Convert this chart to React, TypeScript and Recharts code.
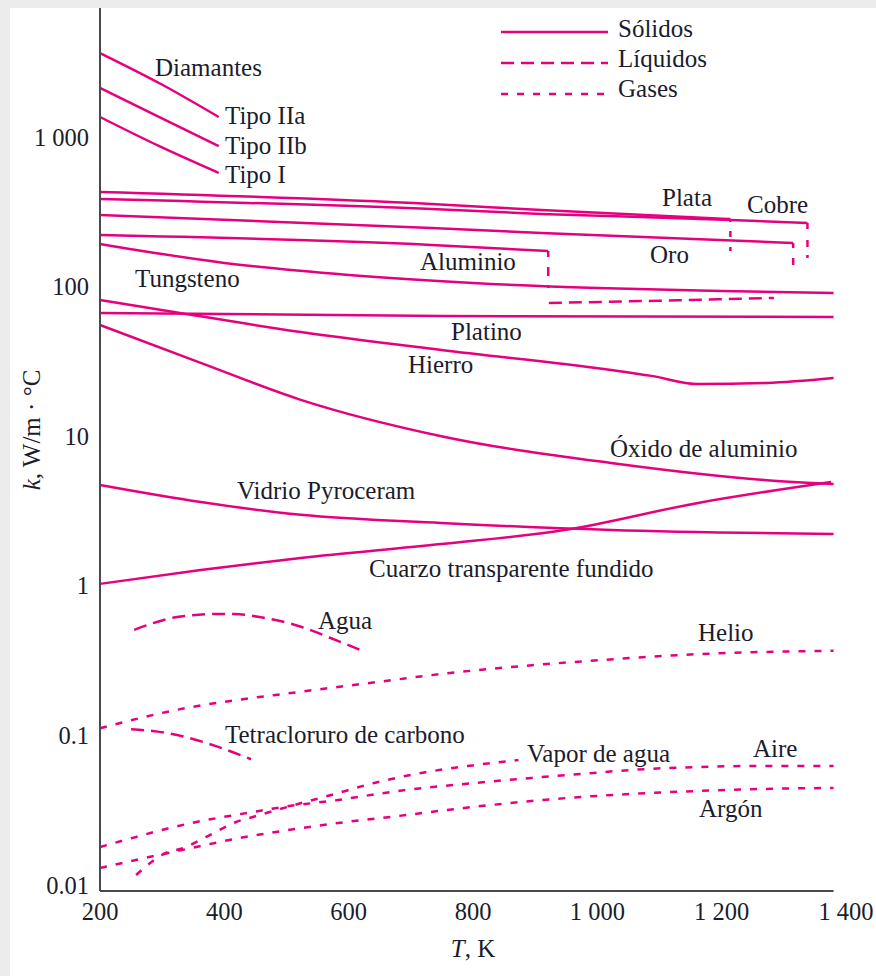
import React from "react";
import { LineChart, Line, XAxis, YAxis, Legend, ReferenceLine, Label } from "recharts";

const PINK = "#e6007e";
const INK = "#1c1c2c";
const FONT = "'Liberation Serif', 'Times New Roman', serif";

// [T (K), k (W/m·°C)]
const diamanteIIa = [[200, 3640], [298, 2260], [391, 1360]];
const diamanteIIb = [[200, 2130], [298, 1340], [391, 870]];
const diamanteI = [[200, 1360], [298, 858], [391, 575]];
const plata = [[200, 429], [733, 357], [910, 325], [1214, 283]];
const cobre = [[200, 385], [733, 330], [910, 306], [1214, 279], [1338, 266]];
const oro = [[200, 301], [733, 246.5], [910, 228], [1315, 195.6]];
const aluminio = [[200, 221], [733, 190], [921, 173]];
const tungsteno = [[200, 192.7], [300, 165], [400, 144], [600, 119.5], [800, 105.7], [1000, 97.9], [1200, 93.5], [1380, 90.6]];
const platino = [[200, 66.6], [750, 63.6], [1380, 62.6]];
const hierro = [[200, 81.4], [309, 68.7], [523, 49.7], [749, 37.7], [1022, 27.7], [1087, 25.3], [1162, 22.3], [1272, 22.7], [1380, 24.5]];
const oxidoAluminio = [[200, 55.4], [362, 30.9], [523, 17.5], [749, 10.0], [1022, 6.62], [1268, 5.1], [1380, 4.79]];
const pyroceram = [[200, 4.72], [362, 3.63], [523, 2.98], [749, 2.63], [1022, 2.36], [1380, 2.22]];
const cuarzo = [[200, 1.03], [362, 1.276], [523, 1.535], [749, 1.9], [947, 2.36], [1162, 3.58], [1376, 4.94]];

// melting steps (solid -> liquid)
const plataFusion = [[1214, 283], [1214, 170]];
const cobreFusion = [[1338, 266], [1338, 155]];
const oroFusion = [[1315, 195.6], [1315, 139.5]];
const aluminioFusion = [[921, 173], [921, 97]];

// liquids
const aluminioLiquido = [[922, 77.7], [1100, 80.5], [1284, 83.9]];
const agua = [[255, 0.507], [322, 0.616], [390, 0.648], [416, 0.647], [459, 0.616], [523, 0.533], [572, 0.446], [625, 0.363]];
const tetracloruro = [[250, 0.11], [293, 0.106], [336, 0.098], [389, 0.0841], [443, 0.0693]];

// gases
const helio = [[200, 0.1116], [309, 0.1441], [523, 0.196], [630, 0.223], [749, 0.2574], [1006, 0.319], [1167, 0.35], [1380, 0.368]];
const aire = [[200, 0.01796], [258, 0.02095], [306, 0.0237], [355, 0.02639], [408, 0.02894], [456, 0.03126], [494, 0.03323], [583, 0.03702], [680, 0.04253], [786, 0.04737], [894, 0.05194], [974, 0.05525], [1054, 0.05875], [1162, 0.06151], [1268, 0.06247], [1380, 0.06247]];
const argon = [[200, 0.013], [258, 0.01471], [355, 0.01796], [408, 0.02], [483, 0.02263], [559, 0.0252], [596, 0.02639], [680, 0.02894], [786, 0.03273], [894, 0.03646], [974, 0.03878], [1054, 0.04061], [1162, 0.04253], [1268, 0.04386], [1380, 0.04455]];
const vaporAgua = [[258, 0.01167], [306, 0.01638], [334, 0.01769], [371, 0.02095], [419, 0.02639], [446, 0.0285], [507, 0.03376], [572, 0.03998], [641, 0.04809], [717, 0.0561], [792, 0.06247], [873, 0.06853]];

const xTicks = [200, 400, 600, 800, 1000, 1200, 1400];
const yTicks = [0.01, 0.1, 1, 10, 100, 1000];
const legendItems = ["Sólidos", "Líquidos", "Gases"];

const SOLID = undefined;
const DASH = "13 7";
const DOT = "7 9";

const toPts = (arr: number[][]) => arr.map(([T, k]) => ({ T, k }));

const series = [
  { id: "diamanteIIa", d: diamanteIIa, dash: SOLID },
  { id: "diamanteIIb", d: diamanteIIb, dash: SOLID },
  { id: "diamanteI", d: diamanteI, dash: SOLID },
  { id: "plata", d: plata, dash: SOLID },
  { id: "cobre", d: cobre, dash: SOLID },
  { id: "oro", d: oro, dash: SOLID },
  { id: "aluminio", d: aluminio, dash: SOLID },
  { id: "tungsteno", d: tungsteno, dash: SOLID },
  { id: "platino", d: platino, dash: SOLID },
  { id: "hierro", d: hierro, dash: SOLID },
  { id: "oxido", d: oxidoAluminio, dash: SOLID },
  { id: "pyroceram", d: pyroceram, dash: SOLID },
  { id: "cuarzo", d: cuarzo, dash: SOLID },
  { id: "plataFusion", d: plataFusion, dash: "3 9 6 10 4 300", linear: true },
  { id: "cobreFusion", d: cobreFusion, dash: "6 11 7 8 3 300", linear: true },
  { id: "oroFusion", d: oroFusion, dash: "5 10 7 300", linear: true },
  { id: "aluminioFusion", d: aluminioFusion, dash: "6 10 9 9 3 300", linear: true },
  { id: "aluminioLiquido", d: aluminioLiquido, dash: DASH },
  { id: "agua", d: agua, dash: DASH },
  { id: "tetracloruro", d: tetracloruro, dash: DASH },
  { id: "helio", d: helio, dash: DOT },
  { id: "aire", d: aire, dash: DOT },
  { id: "argon", d: argon, dash: DOT },
  { id: "vapor", d: vaporAgua, dash: DOT },
];

const annotations = [
  { t: "Diamantes", x: 155, y: 76 },
  { t: "Tipo IIa", x: 225, y: 124 },
  { t: "Tipo IIb", x: 225, y: 154 },
  { t: "Tipo I", x: 225, y: 183 },
  { t: "Plata", x: 662, y: 206 },
  { t: "Cobre", x: 747, y: 213 },
  { t: "Oro", x: 650, y: 263 },
  { t: "Aluminio", x: 420, y: 270 },
  { t: "Tungsteno", x: 135, y: 287 },
  { t: "Platino", x: 451, y: 340 },
  { t: "Hierro", x: 408, y: 373 },
  { t: "Óxido de aluminio", x: 610, y: 457 },
  { t: "Vidrio Pyroceram", x: 237, y: 499 },
  { t: "Cuarzo transparente fundido", x: 369, y: 577 },
  { t: "Agua", x: 318, y: 629 },
  { t: "Helio", x: 698, y: 641 },
  { t: "Tetracloruro de carbono", x: 225, y: 743 },
  { t: "Vapor de agua", x: 527, y: 762 },
  { t: "Aire", x: 753, y: 757 },
  { t: "Argón", x: 699, y: 817 },
];

const fmt = (v: number) => (v >= 1000 ? String(v).replace(/(\d)(\d{3})$/, "$1 $2") : String(v));

function LegendBox() {
  const dashes = [SOLID, DASH, DOT];
  return (
    <svg width={260} height={100} style={{ display: "block" }}>
      {legendItems.map((name, i) => (
        <g key={name}>
          <line x1={21} x2={128} y1={22 + i * 31} y2={22 + i * 31} stroke={PINK} strokeWidth={2.5} strokeDasharray={dashes[i]} />
          <text x={138} y={27 + i * 30} fontFamily={FONT} fontSize={25} fill={INK}>{name}</text>
        </g>
      ))}
    </svg>
  );
}

export default function App() {
  return (
    <div style={{ position: "fixed", left: 0, top: 0, width: 876, height: 976, background: "#ececec" }}>
      <div style={{ position: "absolute", left: 10, top: 8, right: 0, bottom: 0, background: "#ffffff" }} />
      <div style={{ position: "absolute", left: 0, top: 0 }}>
        <LineChart width={876} height={976} margin={{ top: 8, right: 30, bottom: 45, left: 40 }}>
          <XAxis
            dataKey="T"
            type="number"
            domain={[200, 1400]}
            ticks={xTicks}
            tickFormatter={fmt}
            axisLine={false}
            tickLine={false}
            tickSize={6}
            tickMargin={6}
            height={40}
            tick={{ fill: INK, fontSize: 24.5, fontFamily: FONT }}
          >
            <Label
              content={() => (
                <text x={473} y={957} textAnchor="middle" fontFamily={FONT} fontSize={25} fill={INK}>
                  <tspan fontStyle="italic">T</tspan>, K
                </text>
              )}
            />
          </XAxis>
          <YAxis
            dataKey="k"
            type="number"
            scale="log"
            domain={[0.00912, 7280]}
            allowDataOverflow
            ticks={yTicks}
            tickFormatter={fmt}
            axisLine={{ stroke: "#4a4a4a", strokeWidth: 2 }}
            tickLine={false}
            tickSize={6}
            tickMargin={5}
            width={60}
            tick={{ fill: INK, fontSize: 24.5, fontFamily: FONT }}
          >
            <Label
              content={() => (
                <text x={40} y={430} textAnchor="middle" transform="rotate(-90 40 430)" fontFamily={FONT} fontSize={25} fill={INK}>
                  <tspan fontStyle="italic">k</tspan>, W/m · °C
                </text>
              )}
            />
          </YAxis>
          <ReferenceLine
            segment={[{ x: 200, y: 0.00912 }, { x: 1380, y: 0.00912 }]}
            stroke="#4a4a4a"
            strokeWidth={2}
          />
          {series.map((s) => (
            <Line
              key={s.id}
              name={s.id}
              data={toPts(s.d)}
              dataKey="k"
              type={s.linear ? "linear" : "monotone"}
              stroke={PINK}
              strokeWidth={2.5}
              strokeDasharray={s.dash}
              dot={false}
              activeDot={false}
              legendType="none"
              isAnimationActive={false}
            />
          ))}
          <Legend
            verticalAlign="middle"
            layout="horizontal"
            content={() => <LegendBox />}
            wrapperStyle={{ left: 480, top: 10, width: 260, height: 100 }}
          />
        </LineChart>
      </div>
      <svg width={876} height={976} style={{ position: "absolute", left: 0, top: 0, pointerEvents: "none" }}>
        {annotations.map((a) => (
          <text key={a.t} x={a.x} y={a.y} fontFamily={FONT} fontSize={25} fill={INK}>
            {a.t}
          </text>
        ))}
      </svg>
    </div>
  );
}
